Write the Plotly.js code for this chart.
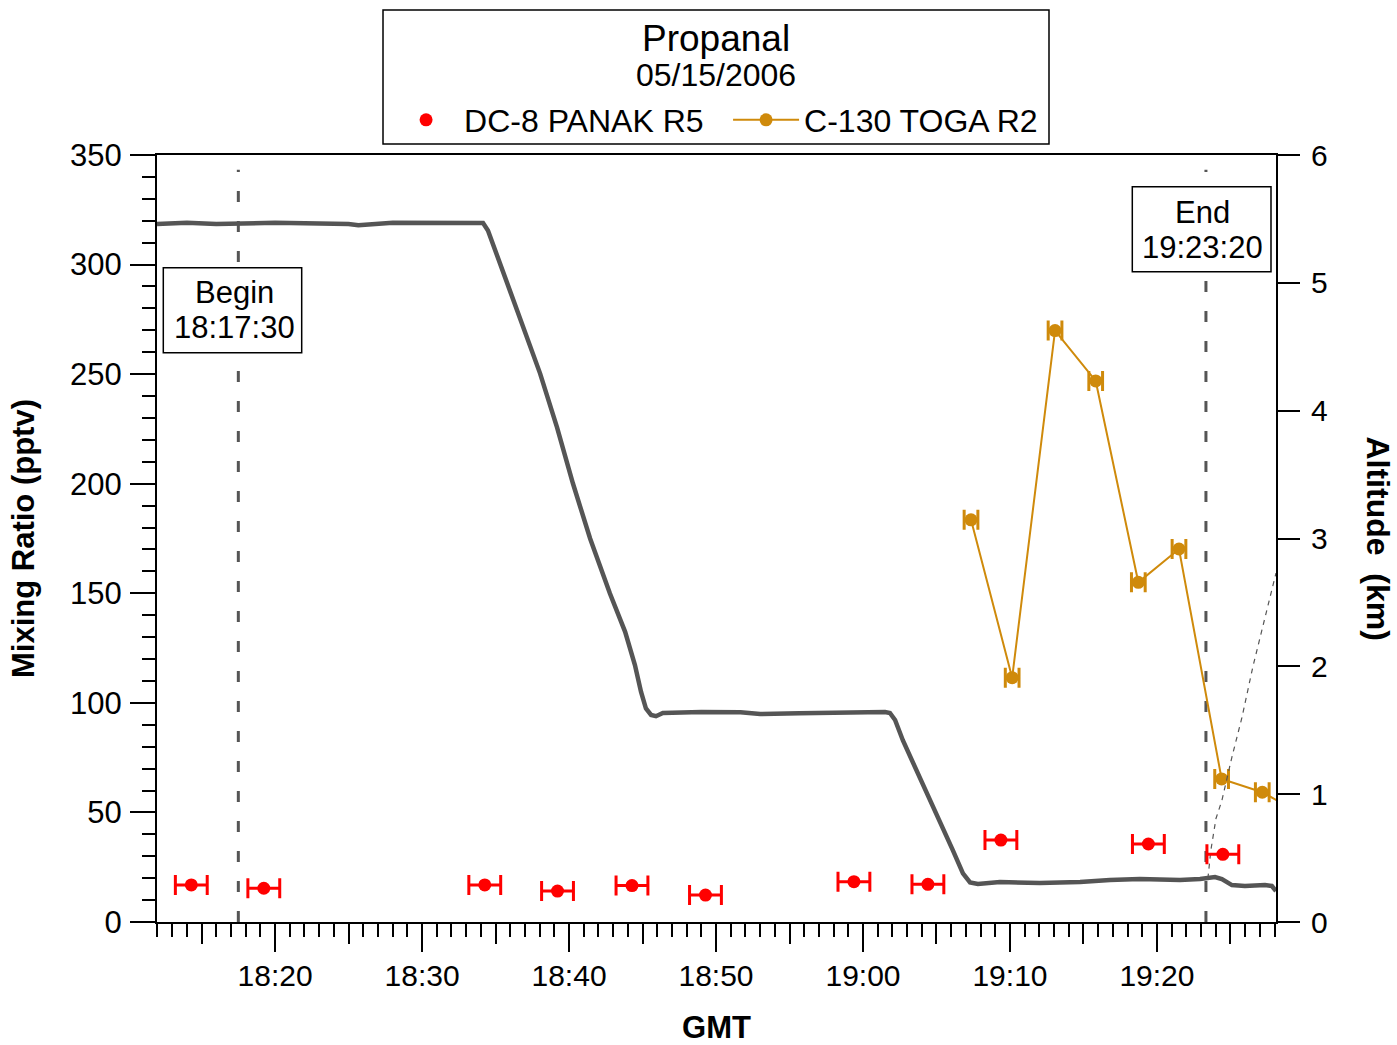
<!DOCTYPE html>
<html><head><meta charset="utf-8">
<script src="https://cdn.plot.ly/plotly-3.0.1.min.js"></script>
<style>html,body{margin:0;padding:0;background:#fff}</style>
</head><body><div id="chart" style="width:1397px;height:1045px"></div>
<script>
// DC-8 altitude (km, right axis)
const altTimes = ['18:11:58','18:14:00','18:16:00','18:20:00','18:25:00','18:25:40','18:28:00','18:30:00','18:33:00','18:34:09',
  '18:34:29','18:34:58','18:35:59','18:37:01','18:38:02','18:39:11','18:40:16','18:41:26','18:42:47','18:43:49','18:44:29','18:44:54','18:45:14','18:45:35','18:45:55','18:46:23',
  '18:49:00','18:51:40','18:53:00','18:55:40','18:59:00','19:01:30',
  '19:01:50','19:02:11','19:02:43','19:03:53','19:05:02','19:06:07','19:06:48','19:07:17','19:07:49',
  '19:09:19','19:12:02','19:14:46','19:16:48','19:18:50','19:21:34','19:22:56','19:23:57','19:24:25','19:25:06','19:25:59','19:27:21','19:27:49','19:28:06'];
const altKm = [5.46,5.47,5.46,5.47,5.46,5.45,5.47,5.47,5.47,5.468,
  5.41,5.26,4.94,4.62,4.29,3.87,3.43,3.00,2.57,2.27,2.01,1.80,1.67,1.62,1.61,1.635,
  1.643,1.640,1.627,1.633,1.640,1.643,
  1.635,1.58,1.42,1.13,0.85,0.56,0.38,0.31,0.297,
  0.313,0.305,0.313,0.329,0.336,0.329,0.336,0.352,0.336,0.289,0.282,0.289,0.282,0.243];

// second altitude trace (thin dashed)
const alt2Times = ['19:23:28','19:23:40','19:24:01','19:24:25','19:25:06','19:25:47','19:26:32','19:27:21','19:28:06'];
const alt2Km = [0.34,0.56,0.81,0.95,1.29,1.60,2.00,2.39,2.73];

// DC-8 PANAK R5 propanal (pptv)
const dc8Times = ['18:14:18','18:19:14','18:34:16','18:39:13','18:44:17','18:49:17','18:59:23','19:04:25','19:09:23','19:19:25','19:24:29'];
const dc8Values = [16.9,15.4,16.9,14.1,16.6,12.3,18.4,17.2,37.4,35.6,30.9];
const dc8HalfWindowSec = [65,65,65,65,65,65,65,65,65,65,65];

// C-130 TOGA R2 propanal (pptv)
const c130Times = ['19:07:21','19:10:09','19:13:04','19:15:50','19:18:44','19:21:30','19:24:24','19:27:10','19:30:00'];
const c130Values = [183.5,111.5,269.9,246.9,155.0,170.2,65.3,59.2,48.8];
const c130HalfWindowSec = [28,28,28,28,28,28,28,28,28];

// x tick labels (GMT)
const xTickLabels = ['18:20','18:30','18:40','18:50','19:00','19:10','19:20'];
const xStart = '18:11:58';
const xEnd = '19:28:06';

const beginTime = '18:17:30';
const endTime = '19:23:20';
const lineTop = 343.3;

// clock "HH:MM[:SS]" -> minutes since midnight
const toMin = t => { const p = t.split(':').map(Number); return p[0] * 60 + p[1] + (p[2] || 0) / 60; };
const m = a => a.map(toMin);
const secToMin = a => a.map(s => s / 60);

const FONT = 'Liberation Sans, Arial, Helvetica, sans-serif';
const GRAY = '#555555';
const RED = '#FF0000';
const ORANGE = '#CF8A0B';

const traces = [
  {x: m(altTimes), y: altKm, yaxis: 'y2', mode: 'lines', line: {color: GRAY, width: 4.5}, showlegend: false, hoverinfo: 'skip'},
  {x: m(alt2Times), y: alt2Km, yaxis: 'y2', mode: 'lines', line: {color: GRAY, width: 1.2, dash: '5px,5px'}, showlegend: false, hoverinfo: 'skip'},
  {x: m([beginTime, beginTime]), y: [0, lineTop], mode: 'lines', line: {color: GRAY, width: 3, dash: '11px,19px'}, showlegend: false, hoverinfo: 'skip'},
  {x: m([endTime, endTime]), y: [0, lineTop], mode: 'lines', line: {color: GRAY, width: 3, dash: '11px,19px'}, showlegend: false, hoverinfo: 'skip'},
  {x: m(dc8Times), y: dc8Values, xaxis: 'x2', name: 'DC-8 PANAK R5', mode: 'markers',
   marker: {color: RED, size: 13},
   error_x: {type: 'data', array: secToMin(dc8HalfWindowSec), color: RED, thickness: 3, width: 10}},
  {x: m(c130Times), y: c130Values, name: 'C-130 TOGA R2', mode: 'lines+markers',
   line: {color: ORANGE, width: 2}, marker: {color: ORANGE, size: 13},
   error_x: {type: 'data', array: secToMin(c130HalfWindowSec), color: ORANGE, thickness: 3, width: 10}}
];

const xRange = [toMin(xStart), toMin(xEnd)];

const layout = {
  width: 1397, height: 1045,
  margin: {l: 157, r: 121, t: 155, b: 123},
  paper_bgcolor: '#fff', plot_bgcolor: '#fff',
  font: {family: FONT, color: '#000', size: 30},
  showlegend: true,
  legend: {orientation: 'h', x: 0.2065, xanchor: 'left', y: 1.0456, yanchor: 'middle',
    font: {size: 32}, itemwidth: 66, entrywidth: 259, bgcolor: 'rgba(0,0,0,0)', borderwidth: 0},
  xaxis: {type: 'linear', range: xRange, tickmode: 'array', tickvals: m(xTickLabels), ticktext: xTickLabels,
    ticks: 'outside', ticklen: 28, tickwidth: 2, tickcolor: '#000',
    showline: true, linecolor: '#000', linewidth: 2, mirror: true,
    showgrid: false, zeroline: false, tickfont: {size: 30}, ticklabelstandoff: -2,
    minor: {tickmode: 'linear', tick0: 0, dtick: 1, ticks: 'outside', ticklen: 13, tickwidth: 2, tickcolor: '#000', showgrid: false},
    title: {text: 'GMT', font: {size: 31, weight: 'bold'}, standoff: 25}},
  xaxis2: {type: 'linear', range: xRange, overlaying: 'x', anchor: 'y', side: 'bottom',
    tickmode: 'linear', tick0: 0, dtick: 5, ticks: 'outside', ticklen: 21, tickwidth: 2, tickcolor: '#000',
    showticklabels: false, showline: false, showgrid: false, zeroline: false},
  yaxis: {range: [0, 350], tick0: 0, dtick: 50, ticks: 'outside', ticklen: 25, tickwidth: 2, tickcolor: '#000',
    showline: true, linecolor: '#000', linewidth: 2, showgrid: false, zeroline: false,
    tickfont: {size: 31}, ticklabelstandoff: 2,
    minor: {dtick: 10, ticks: 'outside', ticklen: 13, tickwidth: 2, tickcolor: '#000', showgrid: false},
    title: {text: 'Mixing Ratio (pptv)', font: {size: 31, weight: 'bold'}, standoff: 26}},
  yaxis2: {range: [0, 6], overlaying: 'y', side: 'right', tick0: 0, dtick: 1, ticks: 'outside', ticklen: 22, tickwidth: 2, tickcolor: '#000',
    showline: true, linecolor: '#000', linewidth: 2, showgrid: false, zeroline: false,
    tickfont: {size: 30}, ticklabelstandoff: 5},
  shapes: [
    {type: 'rect', xref: 'paper', yref: 'paper', x0: 0.20197, x1: 0.79714, y0: 1.01434, y1: 1.18905,
     line: {color: '#000', width: 1.5}, fillcolor: 'rgba(0,0,0,0)'},
    {type: 'rect', xref: 'paper', yref: 'paper', layer: 'above', x0: 0.00563, x1: 0.12931, y0: 0.74224, y1: 0.85306,
     line: {color: '#000', width: 1.5}, fillcolor: '#fff'},
    {type: 'rect', xref: 'paper', yref: 'paper', layer: 'above', x0: 0.87158, x1: 0.99553, y0: 0.84785, y1: 0.95867,
     line: {color: '#000', width: 1.5}, fillcolor: '#fff'}
  ],
  annotations: [
    {text: 'Propanal', xref: 'paper', yref: 'paper', x: 0.4996, y: 1.1525, showarrow: false, font: {size: 37}, xanchor: 'center', yanchor: 'middle'},
    {text: '05/15/2006', xref: 'paper', yref: 'paper', x: 0.4996, y: 1.1043, showarrow: false, font: {size: 32}, xanchor: 'center', yanchor: 'middle'},
    {text: 'Begin', xref: 'paper', yref: 'paper', x: 0.0697, y: 0.82138, showarrow: false, font: {size: 31}, xanchor: 'center', yanchor: 'middle'},
    {text: beginTime, xref: 'paper', yref: 'paper', x: 0.0697, y: 0.77445, showarrow: false, font: {size: 31}, xanchor: 'center', yanchor: 'middle'},
    {text: 'End', xref: 'paper', yref: 'paper', x: 0.93476, y: 0.92568, showarrow: false, font: {size: 31}, xanchor: 'center', yanchor: 'middle'},
    {text: endTime, xref: 'paper', yref: 'paper', x: 0.93476, y: 0.88005, showarrow: false, font: {size: 31}, xanchor: 'center', yanchor: 'middle'},
    {text: 'Altitude\u00a0\u00a0(km)', xref: 'paper', yref: 'paper', x: 1.0912, y: 0.5, showarrow: false, textangle: 90,
     font: {size: 32, weight: 'bold'}, xanchor: 'center', yanchor: 'middle'}
  ]
};

Plotly.newPlot('chart', traces, layout, {displayModeBar: false, staticPlot: true});
</script></body></html>
